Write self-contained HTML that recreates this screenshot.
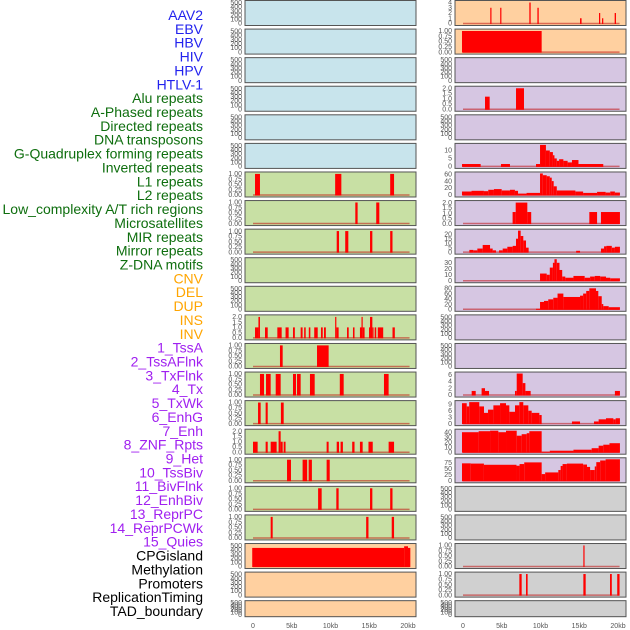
<!DOCTYPE html>
<html><head><meta charset="utf-8"><style>
html,body{margin:0;padding:0;background:#fff;width:630px;height:630px;overflow:hidden}
svg{display:block;font-family:"Liberation Sans",sans-serif}
</style></head><body>
<svg id="chart" width="630" height="630" viewBox="0 0 630 630" xmlns="http://www.w3.org/2000/svg">
<g id="labels"></g>
<g id="panels"></g>
<g id="xaxis"></g>
</svg>
<script>
const trackLabels = ["AAV2","EBV","HBV","HIV","HPV","HTLV-1","Alu repeats","A-Phased repeats","Directed repeats","DNA transposons","G-Quadruplex forming repeats","Inverted repeats","L1 repeats","L2 repeats","Low_complexity A/T rich regions","Microsatellites","MIR repeats","Mirror repeats","Z-DNA motifs","CNV","DEL","DUP","INS","INV","1_TssA","2_TssAFlnk","3_TxFlnk","4_Tx","5_TxWk","6_EnhG","7_Enh","8_ZNF_Rpts","9_Het","10_TssBiv","11_BivFlnk","12_EnhBiv","13_ReprPC","14_ReprPCWk","15_Quies","CPGisland","Methylation","Promoters","ReplicationTiming","TAD_boundary"];
const labelGroups = [6,13,5,15,5];
const xTicks = [0,5,10,15,20];
const xTickLabels = ["0","5kb","10kb","15kb","20kb"];
const ticks500 = [0,100,200,300,400,500];
const ticks1 = [0,0.25,0.5,0.75,1];
const ticks2 = [0,0.5,1,1.5,2];
const leftBg = ["#c8e4ec","#c8e4ec","#c8e4ec","#c8e4ec","#c8e4ec","#c8e4ec","#c8e0a4","#c8e0a4","#c8e0a4","#c8e0a4","#c8e0a4","#c8e0a4","#c8e0a4","#c8e0a4","#c8e0a4","#c8e0a4","#c8e0a4","#c8e0a4","#c8e0a4","#ffd0a0","#ffd0a0","#ffd0a0"];
const rightBg = ["#ffd0a0","#ffd0a0","#d6c6e2","#d6c6e2","#d6c6e2","#d6c6e2","#d6c6e2","#d6c6e2","#d6c6e2","#d6c6e2","#d6c6e2","#d6c6e2","#d6c6e2","#d6c6e2","#d6c6e2","#d6c6e2","#d6c6e2","#d0d0d0","#d0d0d0","#d0d0d0","#d0d0d0","#d0d0d0"];
const emptyBars = [];
const L6 = [[0.26,0.9,1],[10.6,11.4,1],[17.7,18.2,1]];
const L7 = [[13.2,13.5,1],[15.9,16.3,1]];
const L8 = [[10.8,11.1,1],[11.9,12.3,1],[15.1,15.4,1],[17.7,18.0,1]];
const L11 = [[0.26,0.7,1],[0.7,0.9,2],[1.55,1.9,1],[3.14,3.7,1],[4.2,4.6,1],[5.16,5.4,1],[6.15,6.4,1],[6.6,6.8,1],[7.2,7.4,1],[7.9,8.35,1],[8.77,9.0,1],[9.16,9.4,1],[10.6,10.75,2],[10.75,11.05,1],[12.13,12.35,1],[12.9,13.1,1],[13.8,14.0,1],[14.0,14.15,2],[14.15,14.4,1],[14.97,15.1,1],[15.1,15.4,2],[15.4,15.45,1],[15.7,15.9,1],[16.1,16.8,1],[18.0,18.3,1]];
const L12 = [[3.48,3.83,1],[8.26,9.76,1]];
const L13 = [[0.9,1.42,1],[1.68,2.28,1],[2.93,3.57,1],[5.16,5.55,1],[5.68,6.15,1],[7.35,7.96,1],[11.2,11.7,1],[16.9,17.5,1]];
const L14 = [[0.65,0.99,1],[1.63,1.9,1],[3.6,3.96,1]];
const L15 = [[0,0.6,1],[1.63,1.9,1],[2.28,3.05,1],[3.3,3.57,2],[3.57,3.83,1],[3.96,4.2,1],[9.5,9.76,1],[10.8,11.1,1],[11.3,11.6,1],[12.8,13.1,1],[13.8,14.15,1],[14.9,15.45,1],[17.5,18.2,1]];
const L16 = [[4.39,4.9,1],[6.4,6.99,1],[7.18,7.6,1],[9.5,9.9,1]];
const L17 = [[8.4,8.86,1],[10.75,11.05,1],[15.1,15.4,1],[17.7,18.0,1]];
const L18 = [[2.28,2.54,1],[14.6,14.9,1],[17.9,18.2,1]];
const L19 = [[-0.1,19.5,450],[19.5,20.0,490],[20.0,20.3,450]];
const R0 = [[3.52,3.65,3],[4.8,4.94,3],[8.56,8.73,4],[9.6,9.77,3],[15.1,15.3,1],[17.55,17.68,2],[17.94,18.1,1],[19.57,19.74,2]];
const R1 = [[-0.13,10.15,1]];
const R3 = [[2.84,3.44,1.2],[6.84,7.87,2]];
const R5 = [[-0.13,2.28,1.5],[4.9,6.06,1.5],[9.42,9.94,1.5],[9.94,10.7,13.5],[10.7,11.2,10],[11.2,11.6,9],[11.6,11.8,7],[11.8,12.1,5],[12.1,12.4,3.5],[12.4,12.95,4.5],[12.95,13.5,3.5],[13.5,14.06,2.5],[14.06,14.9,4],[14.9,18.1,1.5]];
const R6 = [[-0.13,1.1,10],[1.1,2.7,12],[2.7,3.26,11],[3.26,3.99,15],[3.99,4.99,17],[4.99,6.06,13],[6.06,6.7,15],[6.7,7.1,12],[7.1,8.2,4],[8.2,9.94,6],[9.94,10.3,62],[10.3,10.8,57],[10.8,11.2,54],[11.2,11.45,50],[11.45,11.7,40],[11.7,12.1,25],[12.1,14.5,13],[14.5,15.5,10],[15.5,17.3,6],[17.3,18.4,9],[18.4,19.0,7],[19.0,19.6,10],[19.6,20.25,7]];
const R7 = [[6.4,6.8,1.1],[6.8,8.3,2],[8.3,8.8,1.1],[16.3,17.3,1.1],[17.8,20.25,1.1]];
const R8 = [[0.82,1.33,2.5],[1.33,1.85,2],[1.85,2.54,4],[2.54,3.49,8],[3.49,3.83,4],[3.83,4.26,2],[4.65,5.12,2],[5.12,5.72,4],[5.72,6.41,6],[6.41,6.84,7],[6.84,7.1,15],[7.1,7.44,24],[7.44,7.78,18],[7.78,8.13,13],[8.13,8.47,5],[14.6,15.1,1.5],[17.8,18.2,4],[18.2,18.5,6.5],[18.5,19.2,7],[19.2,19.6,5],[19.6,20.25,6]];
const R9 = [[9.94,10.8,12],[10.8,11.2,10],[11.2,11.6,22],[11.6,11.8,30],[11.8,12.1,36],[12.1,12.45,30],[12.45,12.8,18],[12.8,13.2,7],[13.2,14.25,5],[14.25,15.7,8],[15.7,16.4,5],[16.4,17.0,7],[17.0,17.7,8],[17.7,18.45,7],[18.45,19.0,5],[19.0,20.25,4]];
const R10 = [[9.42,9.94,2],[9.94,10.45,28],[10.45,11.0,32],[11.0,11.65,38],[11.65,12.2,44],[12.2,12.95,60],[12.95,15.1,47],[15.1,15.5,52],[15.5,15.9,60],[15.9,16.3,70],[16.3,17.16,80],[17.16,17.46,70],[17.46,17.9,50],[17.9,18.1,20],[18.1,18.8,12],[18.8,20.25,8]];
const R13 = [[1.12,1.64,1.2],[2.4,2.84,2],[2.84,3.36,1.2],[6.71,6.93,1.2],[6.93,7.7,6.3],[7.7,8.05,3.5],[8.05,8.73,1.2],[19.6,20.25,1.2]];
const R14 = [[-0.13,0.48,9.5],[0.48,0.8,8],[0.8,2.1,10],[2.1,2.71,8],[2.71,3.23,5],[3.23,3.92,6.5],[3.92,4.78,8.5],[4.78,5.55,9.5],[5.55,5.98,8.5],[5.98,6.71,5.5],[6.71,7.27,8.5],[7.27,7.78,10],[7.78,8.43,8.5],[8.43,8.86,6],[8.86,9.85,5],[9.85,10.15,4],[14.06,15.1,1],[16.9,17.5,1],[17.5,18.45,2],[18.45,19.4,2.5],[19.4,19.7,2],[19.7,20.25,2.5]];
const R15 = [[-0.13,2.02,40],[2.02,3.49,42],[3.49,4.56,43],[4.56,5.55,40],[5.55,6.93,43],[6.93,7.57,33],[7.57,8.22,36],[8.22,8.56,38],[8.56,10.15,42],[10.15,11.2,1],[11.2,14.25,3],[14.25,16.6,5],[16.6,17.5,8],[17.5,18.1,13],[18.1,18.9,15],[18.9,20.25,18]];
const R16 = [[-0.13,1.0,73],[1.0,2.7,72],[2.7,6.9,67],[6.9,7.3,63],[7.3,7.9,70],[7.9,10.15,77],[10.15,10.6,28],[10.6,12.3,35],[12.3,12.6,45],[12.6,12.85,62],[12.85,13.4,70],[13.4,15.5,72],[15.5,16.0,68],[16.0,16.4,58],[16.4,17.0,45],[17.0,17.2,60],[17.2,17.7,78],[17.7,18.4,85],[18.4,20.25,90]];
const R19 = [[15.53,15.66,1]];
const R20 = [[7.27,7.57,1],[8.13,8.34,1],[15.53,15.83,1],[18.97,19.2,1],[19.9,20.2,1]];
const leftTracks = [
 [emptyBars,ticks500,520],[emptyBars,ticks500,520],[emptyBars,ticks500,520],[emptyBars,ticks500,520],[emptyBars,ticks500,520],[emptyBars,ticks500,520],
 [L6,ticks1,1.02],[L7,ticks1,1.02],[L8,ticks1,1.02],[emptyBars,ticks500,520],[emptyBars,ticks500,520],[L11,ticks2,2.05],[L12,ticks1,1.02],[L13,ticks1,1.02],[L14,ticks1,1.02],[L15,ticks2,2.05],[L16,ticks1,1.02],[L17,ticks1,1.02],[L18,ticks1,1.02],[L19,ticks500,520],[emptyBars,ticks500,520],[emptyBars,ticks500,520]];
const rightTracks = [
 [R0,[0,1,2,3,4],4.1],[R1,ticks1,1.02],[emptyBars,ticks500,520],[R3,ticks2,2.05],[emptyBars,ticks500,520],[R5,[0,5,10],13.5],[R6,[0,20,40,60],62],[R7,ticks2,2.05],[R8,[0,5,10,15,20],24],[R9,[0,10,20,30],36],[R10,[0,20,40,60,80],82],[emptyBars,ticks500,520],[emptyBars,ticks500,520],[R13,[0,2,4,6],6.3],[R14,[0,3,6,9],10],[R15,[0,10,20,30,40],43],[R16,[0,25,50,75],90],[emptyBars,ticks500,520],[emptyBars,ticks500,520],[R19,ticks1,1.02],[R20,ticks1,1.02],[emptyBars,ticks500,520]];

const NS="http://www.w3.org/2000/svg";
function mk(tag,parent,attrs){const e=document.createElementNS(NS,tag);for(const k in attrs)e.setAttribute(k,attrs[k]);parent.appendChild(e);return e;}
const xScaleL = kb => 253 + kb*7.75;
const xScaleR = kb => 463 + kb*7.75;
const rowTop = r => 0.5 + r*28.58;
const rowH = r => r===21 ? 16 : 25;
function fmt(v,ticks){const mx=Math.max(...ticks);if(mx<=1)return v.toFixed(2);if(mx<=2)return v.toFixed(1);return String(v);}

const lg=document.getElementById('labels');
const groupColors=["#2222ee","#0e6e0e","#ffa500","#a020f0","#000000"];
let idx=0;
labelGroups.forEach((n,g)=>{for(let i=0;i<n;i++){
  const t=mk('text',lg,{x:203,y:15+idx*13.86+5,'text-anchor':'end','font-size':'14',fill:groupColors[g]});
  t.textContent=trackLabels[idx];
  
  
  idx++;}});

const pg=document.getElementById('panels');
function drawColumn(tracks,bgs,x0,xs,tickX,side){
  tracks.forEach((tr,r)=>{
    const [bars,ticks,ymax]=tr;
    const top=rowTop(r),h=rowH(r),bot=top+h;
    const ys=v=>bot-2-v/ymax*(h-3.5);
    const g=mk('g',pg,{});
    
    
    mk('rect',g,{x:x0-0.5,y:top-0.5,width:172,height:h+1,fill:'#e8e8e8'});
    mk('rect',g,{x:x0,y:top,width:171,height:h,fill:bgs[r],stroke:'#555',"stroke-width":1});
    ticks.forEach(v=>{
      const t=mk('text',g,{x:tickX,y:ys(v)+2.2,'text-anchor':'end','font-size':'7',fill:'#555'});
      t.textContent=fmt(v,ticks);
      
      
    });
    if(bars.length){
      const bl=mk('line',g,{x1:xs(0),x2:xs(20.2),y1:ys(0),y2:ys(0),stroke:'rgba(190,0,0,0.5)','stroke-width':1.5});
      
      
    }
    bars.forEach(b=>{
      const xa=Math.max(x0+1,xs(b[0])),xb=Math.min(x0+170,xs(b[1]));
      const y=ys(b[2]);
      const rc=mk('rect',g,{x:xa,y:y,width:Math.max(1.2,xb-xa),height:ys(0)-y+0.5,fill:'#ff0000'});
      
      
    });
  });
}
drawColumn(leftTracks,leftBg,245,xScaleL,242,'left');
drawColumn(rightTracks,rightBg,455,xScaleR,452,'right');

const xg=document.getElementById('xaxis');
[xScaleL,xScaleR].forEach(xs=>{
  xTicks.forEach((v,i)=>{
    const t=mk('text',xg,{x:xs(v),y:628,'text-anchor':'middle','font-size':'7',fill:'#555'});
    t.textContent=xTickLabels[i];
    
    
  });
});
</script>
</body></html>
